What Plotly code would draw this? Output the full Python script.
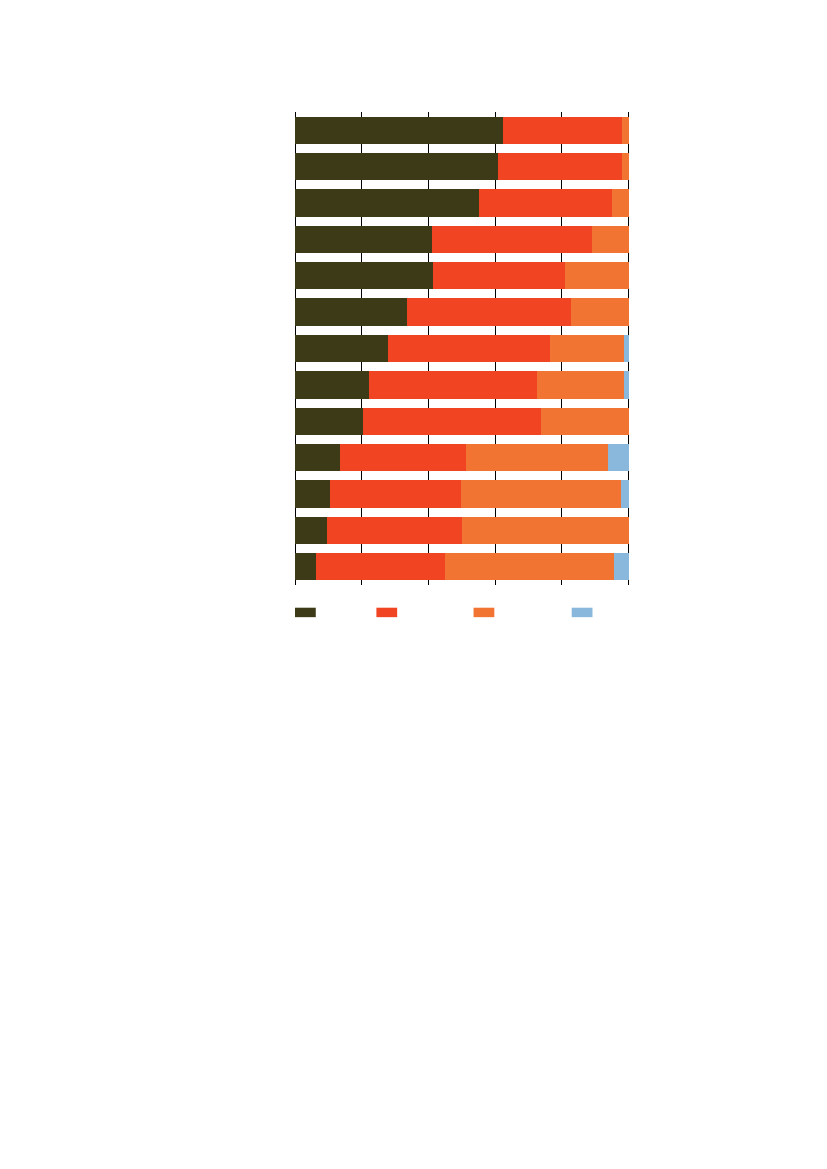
#!/usr/bin/env python3

# Libraries
import plotly.graph_objects as go

# Data: share of each group per row (percent), rows listed top to bottom
rows = ['1', '2', '3', '4', '5', '6', '7', '8', '9', '10', '11', '12', '13']

dark_values   = [62.4, 60.7, 55.1, 41.0, 41.4, 33.6, 27.8, 22.3, 20.3, 13.4, 10.4, 9.5, 6.3]
red_values    = [35.6, 37.4, 40.0, 48.1, 39.6, 49.1, 48.7, 50.1, 53.5, 37.7, 39.4, 40.4, 38.6]
orange_values = [2.0, 1.9, 4.9, 10.9, 19.0, 17.3, 22.0, 26.3, 26.2, 42.8, 48.0, 50.1, 50.8]
blue_values   = [0.0, 0.0, 0.0, 0.0, 0.0, 0.0, 1.5, 1.3, 0.0, 6.1, 2.2, 0.0, 4.3]

colors = ['#3D3A17', '#F04423', '#F27432', '#89B8DC']

# Create figure
fig = go.Figure()

series = [dark_values, red_values, orange_values, blue_values]
for values, color in zip(series, colors):
    fig.add_trace(go.Bar(
        x = values,
        y = rows,
        orientation = 'h',
        marker = dict(color = color, line = dict(width = 0)),
        showlegend = False,
        hoverinfo = 'skip'
    ))

# Legend swatches (no text in the original)
swatch_x = [0.0, 0.243, 0.533, 0.826]
for sx, color in zip(swatch_x, colors):
    fig.add_shape(
        type = 'rect',
        xref = 'paper', yref = 'paper',
        x0 = sx, x1 = sx + 0.062,
        y0 = -0.068, y1 = -0.048,
        fillcolor = color,
        line = dict(width = 0)
    )

# Update layout
fig.update_layout(
    barmode = 'stack',
    bargap  = 0.25,

    xaxis = dict(
        range     = [0, 100.4],
        tickmode  = 'linear',
        tick0     = 0,
        dtick     = 20,
        showgrid  = True,
        gridcolor = 'black',
        gridwidth = 1,
        zeroline  = True,
        zerolinecolor = 'black',
        zerolinewidth = 1,
        showticklabels = False,
        showline  = False,
        fixedrange = True
    ),

    yaxis = dict(
        autorange = 'reversed',
        showgrid  = False,
        showticklabels = False,
        showline  = False,
        ticks     = '',
        fixedrange = True
    ),

    width  = 827,
    height = 1169,

    plot_bgcolor  = 'white',
    paper_bgcolor = 'white',

    margin = dict(
        l = 287,
        r = 205,
        t = 104,
        b = 592
    ),

    template = None
)

fig.write_html('out.html')
